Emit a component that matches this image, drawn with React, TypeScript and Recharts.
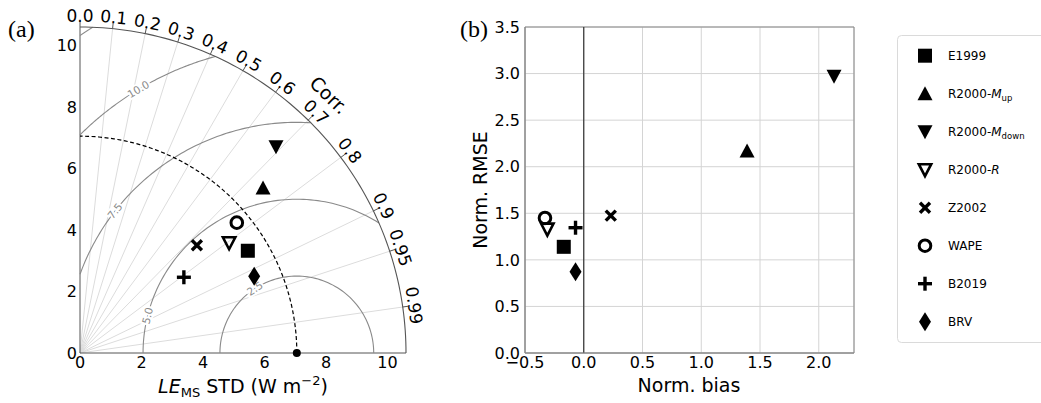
import React from 'react';
import {
  ScatterChart,
  Scatter,
  XAxis,
  YAxis,
  ReferenceLine,
  ReferenceDot,
  ReferenceArea,
  CartesianGrid,
} from 'recharts';

// models, in legend order
const models = ['E1999', 'R2000-Mup', 'R2000-Mdown', 'R2000-R', 'Z2002', 'WAPE', 'B2019', 'BRV'];
const markerKinds = ['square', 'triUp', 'triDown', 'triDownOpen', 'x', 'circleOpen', 'plus', 'diamond'];
const legendParts: string[][] = [
  ['E1999'],
  ['R2000-', 'M', 'up'],
  ['R2000-', 'M', 'down'],
  ['R2000-', 'R', ''],
  ['Z2002'],
  ['WAPE'],
  ['B2019'],
  ['BRV'],
];

// (a) Taylor diagram: standard deviation and correlation of each model
const taylorStd = [6.39, 8.01, 9.25, 6.03, 5.17, 6.63, 4.18, 6.19];
const taylorCorr = [0.854, 0.743, 0.689, 0.804, 0.735, 0.769, 0.808, 0.915];
const refStd = 7.05;
const maxStd = 10.6;
const stdTicks = [0, 2, 4, 6, 8, 10];
const corrTicks = [0, 0.1, 0.2, 0.3, 0.4, 0.5, 0.6, 0.7, 0.8, 0.9, 0.95, 0.99];
const rmsLevels = [2.5, 5, 7.5, 10, 12.5];
const rmsLabels = ['2.5', '5.0', '7.5', '10.0'];
const rmsLabelAngles = [123, 166, 142, 121];

// (b) normalized bias vs normalized RMSE
const normBias = [-0.17, 1.39, 2.13, -0.31, 0.23, -0.33, -0.07, -0.07];
const normRmse = [1.14, 2.17, 2.97, 1.33, 1.475, 1.45, 1.345, 0.873];
const biasTicks = [-0.5, 0, 0.5, 1.0, 1.5, 2.0];
const rmseTicks = [0, 0.5, 1.0, 1.5, 2.0, 2.5, 3.0, 3.5];

const FONT = 'DejaVu Sans, Verdana, sans-serif';
const rad = (d: number) => (d * Math.PI) / 180;

function Marker({ kind, cx, cy }: { kind: string; cx: number; cy: number }) {
  switch (kind) {
    case 'square':
      return <rect x={cx - 7} y={cy - 7} width={14} height={14} fill="#000" />;
    case 'triUp':
      return <polygon points={`${cx},${cy - 7.5} ${cx + 7.5},${cy + 6.5} ${cx - 7.5},${cy + 6.5}`} fill="#000" />;
    case 'triDown':
      return <polygon points={`${cx},${cy + 7.5} ${cx + 7.5},${cy - 6.5} ${cx - 7.5},${cy - 6.5}`} fill="#000" />;
    case 'triDownOpen':
      return (
        <polygon
          points={`${cx},${cy + 6.5} ${cx + 6.2},${cy - 5.5} ${cx - 6.2},${cy - 5.5}`}
          fill="none"
          stroke="#000"
          strokeWidth={2.6}
          strokeLinejoin="miter"
        />
      );
    case 'x':
      return (
        <g stroke="#000" strokeWidth={3.4}>
          <line x1={cx - 5} y1={cy - 5} x2={cx + 5} y2={cy + 5} />
          <line x1={cx - 5} y1={cy + 5} x2={cx + 5} y2={cy - 5} />
        </g>
      );
    case 'circleOpen':
      return <circle cx={cx} cy={cy} r={5.8} fill="none" stroke="#000" strokeWidth={3} />;
    case 'plus':
      return (
        <g stroke="#000" strokeWidth={3.4}>
          <line x1={cx - 7} y1={cy} x2={cx + 7} y2={cy} />
          <line x1={cx} y1={cy - 7} x2={cx} y2={cy + 7} />
        </g>
      );
    case 'diamond':
      return <polygon points={`${cx},${cy - 9.5} ${cx + 6},${cy} ${cx},${cy + 9.5} ${cx - 6},${cy}`} fill="#000" />;
    default:
      return <g />;
  }
}

const originArc = (r: number) => {
  const pts = [];
  for (let i = 0; i <= 90; i++) pts.push({ x: r * Math.cos(rad(i)), y: r * Math.sin(rad(i)) });
  return pts;
};

const rmsArc = (r: number) => {
  let t0 = 0;
  let t1 = Math.PI;
  if (refStd + r > maxStd) {
    const xi = (refStd * refStd + maxStd * maxStd - r * r) / (2 * refStd);
    t0 = Math.atan2(Math.sqrt(maxStd * maxStd - xi * xi), xi - refStd);
  }
  if (refStd - r < 0) t1 = Math.atan2(Math.sqrt(r * r - refStd * refStd), -refStd);
  const pts = [];
  for (let i = 0; i <= 90; i++) {
    const t = t0 + ((t1 - t0) * i) / 90;
    pts.push({ x: refStd + r * Math.cos(t), y: r * Math.sin(t) });
  }
  return pts;
};

const noShape = () => <g />;

function TaylorPanel() {
  return (
    <ScatterChart width={450} height={403} margin={{ top: 27, right: 44, bottom: 0, left: 40 }}>
      <XAxis
        dataKey="x"
        type="number"
        domain={[0, maxStd]}
        ticks={stdTicks}
        tickLine={false}
        tickSize={0}
        tickMargin={4}
        height={50}
        axisLine={{ stroke: '#555' }}
        tick={{ fill: '#000', fontSize: 16, fontFamily: FONT }}
      />
      <YAxis
        dataKey="y"
        type="number"
        domain={[0, maxStd]}
        ticks={stdTicks}
        tickLine={false}
        tickSize={0}
        tickMargin={3}
        width={40}
        axisLine={{ stroke: '#555' }}
        tick={{ fill: '#000', fontSize: 16, fontFamily: FONT }}
      />
      {corrTicks.slice(1).map((c) => {
        const s = Math.sqrt(1 - c * c);
        return (
          <ReferenceLine
            key={`r${c}`}
            segment={[{ x: 0, y: 0 }, { x: maxStd * c, y: maxStd * s }]}
            stroke="#dcdcdc"
            strokeWidth={1}
            ifOverflow="visible"
          />
        );
      })}
      {corrTicks.map((c) => {
        const s = Math.sqrt(1 - c * c);
        return (
          <ReferenceLine
            key={`t${c}`}
            segment={[{ x: maxStd * c, y: maxStd * s }, { x: 10.78 * c, y: 10.78 * s }]}
            stroke="#555"
            strokeWidth={1}
            ifOverflow="visible"
          />
        );
      })}
      {rmsLevels.map((r) => (
        <Scatter
          key={`rms${r}`}
          data={rmsArc(r)}
          line={{ stroke: '#8a8a8a', strokeWidth: 1.1 }}
          lineType="joint"
          shape={noShape}
          isAnimationActive={false}
        />
      ))}
      <Scatter
        data={originArc(refStd)}
        line={{ stroke: '#000', strokeWidth: 1.2, strokeDasharray: '4 2.5' }}
        lineType="joint"
        shape={noShape}
        isAnimationActive={false}
      />
      <Scatter
        data={originArc(maxStd)}
        line={{ stroke: '#555', strokeWidth: 1.1 }}
        lineType="joint"
        shape={noShape}
        isAnimationActive={false}
      />
      {rmsLabels.map((lab, i) => {
        const r = rmsLevels[i];
        const a = rmsLabelAngles[i];
        return (
          <ReferenceDot
            key={`rl${lab}`}
            x={refStd + r * Math.cos(rad(a))}
            y={r * Math.sin(rad(a))}
            ifOverflow="visible"
            shape={(p: any) => (
              <text
                x={p.cx}
                y={p.cy}
                dy="0.35em"
                textAnchor="middle"
                transform={`rotate(${-(a - 90)}, ${p.cx}, ${p.cy})`}
                fontSize={10.5}
                fontFamily={FONT}
                fill="#8a8a8a"
                stroke="#fff"
                strokeWidth={4}
                paintOrder="stroke"
              >
                {lab}
              </text>
            )}
          />
        );
      })}
      <ReferenceDot
        x={refStd}
        y={0}
        ifOverflow="visible"
        shape={(p: any) => <circle cx={p.cx} cy={p.cy} r={4} fill="#000" />}
      />
      {models.map((m, i) => {
        const c = taylorCorr[i];
        const s = taylorStd[i];
        return (
          <Scatter
            key={`a${m}`}
            name={m}
            data={[{ x: s * c, y: s * Math.sqrt(1 - c * c) }]}
            shape={(p: any) => <Marker kind={markerKinds[i]} cx={p.cx} cy={p.cy} />}
            isAnimationActive={false}
          />
        );
      })}
      {corrTicks.map((c) => {
        const s = Math.sqrt(1 - c * c);
        const ang = (Math.acos(c) * 180) / Math.PI;
        const lab = c === 0.95 || c === 0.99 ? c.toFixed(2) : c.toFixed(1);
        return (
          <ReferenceDot
            key={`cl${c}`}
            x={10.97 * c}
            y={10.97 * s}
            ifOverflow="visible"
            shape={(p: any) => (
              <text
                x={p.cx}
                y={p.cy}
                dy="0.35em"
                textAnchor="middle"
                transform={`rotate(${90 - ang}, ${p.cx}, ${p.cy})`}
                fontSize={17}
                fontFamily={FONT}
                fill="#000"
              >
                {lab}
              </text>
            )}
          />
        );
      })}
      <ReferenceDot
        x={11.65 * Math.cos(rad(46))}
        y={11.65 * Math.sin(rad(46))}
        ifOverflow="visible"
        shape={(p: any) => (
          <text
            x={p.cx}
            y={p.cy}
            dy="0.35em"
            textAnchor="middle"
            transform={`rotate(44, ${p.cx}, ${p.cy})`}
            fontSize={19}
            fontFamily={FONT}
            fill="#000"
          >
            Corr.
          </text>
        )}
      />
    </ScatterChart>
  );
}

const fmtTick = (v: number) => v.toFixed(1).replace('-', '\u2212');

function BiasPanel() {
  return (
    <ScatterChart width={420} height={403} margin={{ top: 27, right: 16, bottom: 0, left: 25 }}>
      <CartesianGrid stroke="#d4d4d4" strokeWidth={1} />
      <XAxis
        dataKey="x"
        type="number"
        domain={[-0.5, 2.3]}
        ticks={biasTicks}
        tickFormatter={fmtTick}
        tickLine={false}
        tickSize={0}
        tickMargin={4}
        height={50}
        axisLine={{ stroke: '#888' }}
        tick={{ fill: '#000', fontSize: 16, fontFamily: FONT }}
      />
      <YAxis
        dataKey="y"
        type="number"
        domain={[0, 3.5]}
        ticks={rmseTicks}
        tickFormatter={fmtTick}
        tickLine={false}
        tickSize={0}
        tickMargin={5}
        width={50}
        axisLine={{ stroke: '#888' }}
        tick={{ fill: '#000', fontSize: 16, fontFamily: FONT }}
      />
      <ReferenceArea x1={-0.5} x2={2.3} y1={0} y2={3.5} fill="none" stroke="#888" strokeWidth={1} />
      <ReferenceLine x={0} stroke="#333" strokeWidth={1.2} />
      {models.map((m, i) => (
        <Scatter
          key={`b${m}`}
          name={m}
          data={[{ x: normBias[i], y: normRmse[i] }]}
          shape={(p: any) => <Marker kind={markerKinds[i]} cx={p.cx} cy={p.cy} />}
          isAnimationActive={false}
        />
      ))}
    </ScatterChart>
  );
}

function Overlay() {
  return (
    <svg
      width={1041}
      height={403}
      style={{ position: 'absolute', left: 0, top: 0, pointerEvents: 'none' }}
    >
      <text x={8} y={37} fontSize={24} fontFamily="Liberation Serif, Times New Roman, serif">(a)</text>
      <text x={460} y={37} fontSize={24} fontFamily="Liberation Serif, Times New Roman, serif">(b)</text>
      <text x={243} y={393} textAnchor="middle" fontSize={19} fontFamily={FONT}>
        <tspan fontStyle="italic">LE</tspan>
        <tspan fontSize={13} dy={4}>MS</tspan>
        <tspan dy={-4}> STD (W m</tspan>
        <tspan fontSize={13} dy={-8}>{'\u22122'}</tspan>
        <tspan dy={8}>)</tspan>
      </text>
      <text x={689} y={392} textAnchor="middle" fontSize={19} fontFamily={FONT}>Norm. bias</text>
      <text
        x={487}
        y={190}
        textAnchor="middle"
        fontSize={19}
        fontFamily={FONT}
        transform="rotate(-90, 487, 190)"
      >
        Norm. RMSE
      </text>
      <rect x={897.5} y={35.5} width={160} height={307} rx={4} fill="#fff" stroke="#dadada" />
      {legendParts.map((parts, i) => {
        const cy = 55.7 + i * 38.0;
        return (
          <g key={models[i]}>
            <Marker kind={markerKinds[i]} cx={925} cy={cy} />
            <text x={948} y={cy + 4.5} fontSize={12} fontFamily={FONT} fill="#000">
              <tspan>{parts[0]}</tspan>
              {parts.length > 1 && <tspan fontStyle="italic">{parts[1]}</tspan>}
              {parts.length > 2 && parts[2] && (
                <tspan fontSize={8.5} dy={2.5}>{parts[2]}</tspan>
              )}
            </text>
          </g>
        );
      })}
    </svg>
  );
}

export default function App() {
  return (
    <div
      style={{
        position: 'absolute',
        left: 0,
        top: 0,
        width: 1041,
        height: 403,
        background: '#fff',
        overflow: 'hidden',
      }}
    >
      <div style={{ position: 'absolute', left: 0, top: 0 }}>
        <TaylorPanel />
      </div>
      <div style={{ position: 'absolute', left: 450, top: 0 }}>
        <BiasPanel />
      </div>
      <Overlay />
    </div>
  );
}
